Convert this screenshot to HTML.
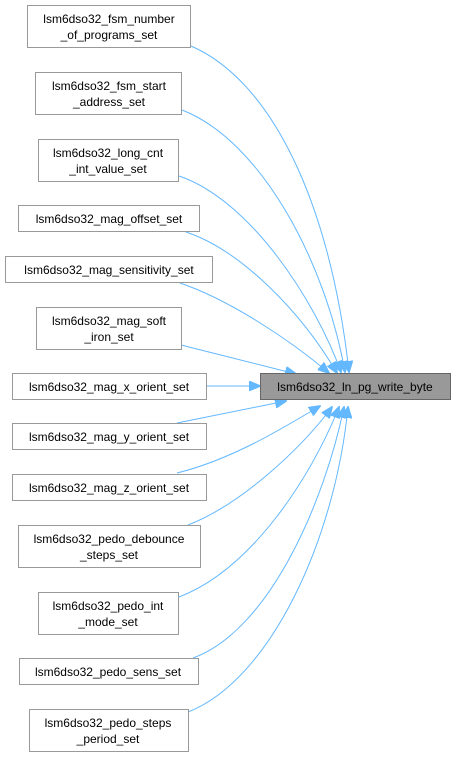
<!DOCTYPE html>
<html><head><meta charset="utf-8"><style>
body{margin:0;background:#fff;}
svg{display:block;}
text{font-family:"Liberation Sans",Helvetica,Arial,sans-serif;font-size:12px;fill:#000;}
</style></head><body>
<svg width="455" height="757" viewBox="0 0 455 757" xmlns="http://www.w3.org/2000/svg">
<defs>
<marker id="a" markerWidth="12" markerHeight="10" refX="11" refY="5" orient="auto" markerUnits="userSpaceOnUse">
<path d="M0,0 L12,5 L0,10 Z" fill="#63b8ff" stroke="#63b8ff"/>
</marker>
</defs>
<g fill="none" stroke="#63b8ff" stroke-width="1">
<path d="M191,46 C270,80 330,200 349,372" marker-end="url(#a)"/>
<path d="M182,110 C260,140 325,260 345,372" marker-end="url(#a)"/>
<path d="M179,176 C250,200 315,300 341,372" marker-end="url(#a)"/>
<path d="M186,232 C240,250 300,310 337,373" marker-end="url(#a)"/>
<path d="M180,283 C230,300 290,340 329,373" marker-end="url(#a)"/>
<path d="M181,345 L296,374" marker-end="url(#a)"/>
<path d="M206,386 L260,386" marker-end="url(#a)"/>
<path d="M177,423 L286,401" marker-end="url(#a)"/>
<path d="M177,473 C230,460 280,430 320,406" marker-end="url(#a)"/>
<path d="M188,525 C240,505 300,450 332,407" marker-end="url(#a)"/>
<path d="M179,597 C250,570 310,480 339,407" marker-end="url(#a)"/>
<path d="M193,658 C270,630 325,500 344,407" marker-end="url(#a)"/>
<path d="M188,712 C270,680 335,540 348,407" marker-end="url(#a)"/>
</g>
<g fill="#fff" stroke="#999" stroke-width="1">
<rect x="27.5" y="5.5" width="163" height="42"/>
<rect x="35.5" y="72.5" width="146" height="42"/>
<rect x="38.5" y="139.5" width="140" height="42"/>
<rect x="18.5" y="205.5" width="181" height="26"/>
<rect x="5.5" y="256.5" width="207" height="26"/>
<rect x="36.5" y="307.5" width="145" height="42"/>
<rect x="12.5" y="373.5" width="194" height="26"/>
<rect x="260.5" y="373.5" width="190" height="26" fill="#999" stroke="#666"/>
<rect x="12.5" y="423.5" width="194" height="26"/>
<rect x="12.5" y="474.5" width="194" height="26"/>
<rect x="18.5" y="525.5" width="182" height="42"/>
<rect x="38.5" y="592.5" width="140" height="42"/>
<rect x="19.5" y="658.5" width="179" height="26"/>
<rect x="29.5" y="709.5" width="159" height="42"/>
</g>
<g text-anchor="middle">
<text x="109" y="23">lsm6dso32_fsm_number</text><text x="109" y="39">_of_programs_set</text>
<text x="109" y="90">lsm6dso32_fsm_start</text><text x="109" y="106">_address_set</text>
<text x="108" y="157">lsm6dso32_long_cnt</text><text x="108" y="173">_int_value_set</text>
<text x="109" y="223">lsm6dso32_mag_offset_set</text>
<text x="109" y="274">lsm6dso32_mag_sensitivity_set</text>
<text x="109" y="325">lsm6dso32_mag_soft</text><text x="109" y="341">_iron_set</text>
<text x="109" y="391">lsm6dso32_mag_x_orient_set</text>
<text x="355" y="391">lsm6dso32_ln_pg_write_byte</text>
<text x="109" y="441">lsm6dso32_mag_y_orient_set</text>
<text x="109" y="492">lsm6dso32_mag_z_orient_set</text>
<text x="109" y="543">lsm6dso32_pedo_debounce</text><text x="109" y="559">_steps_set</text>
<text x="108" y="610">lsm6dso32_pedo_int</text><text x="108" y="626">_mode_set</text>
<text x="108" y="676">lsm6dso32_pedo_sens_set</text>
<text x="108" y="727">lsm6dso32_pedo_steps</text><text x="108" y="743">_period_set</text>
</g>
</svg>
</body></html>
